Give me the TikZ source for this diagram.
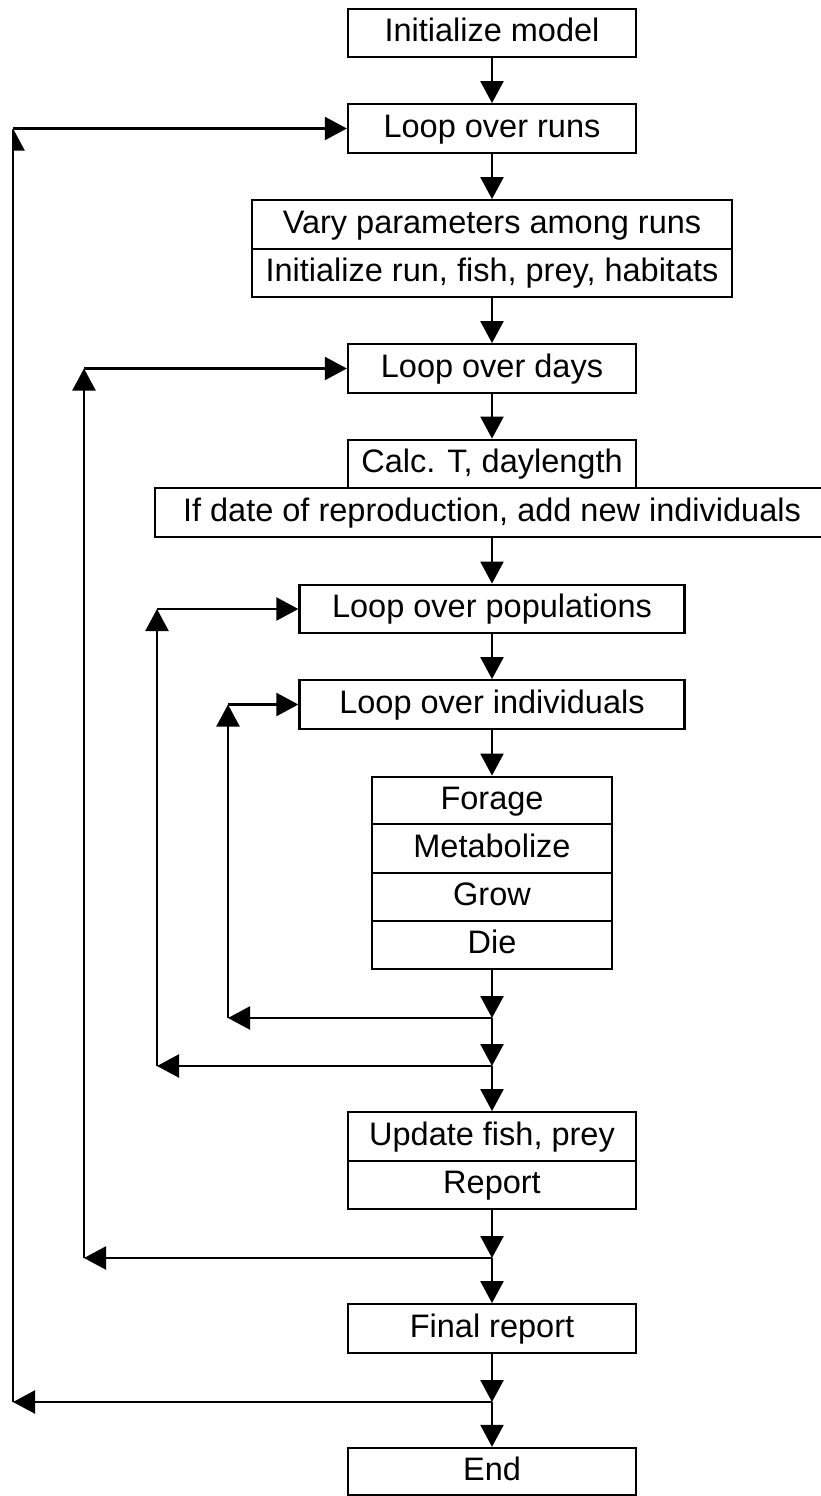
\documentclass[tikz,border=0pt]{standalone}
\usepackage{fontspec}
\setmainfont{Liberation Sans}
\usetikzlibrary{arrows.meta}
\begin{document}
\begin{tikzpicture}[x=1pt,y=-1pt,
  box/.style={draw,line width=2.3pt,inner sep=0pt,minimum height=48.5pt,
    text height=24pt,text depth=6.6pt,
    font=\fontsize{32.5pt}{38pt}\selectfont,anchor=center},
  arr/.style={line width=2.3pt,-{Triangle[length=22pt,width=23pt]}}]
\useasboundingbox[fill=white] (0,0) rectangle (821,1496);
% boxes
\node[box,minimum width=288pt] (init) at (492,33) {Initialize model};
\node[box,minimum width=288pt] (runs) at (492,128.5) {Loop over runs};
\node[box,minimum width=480pt] (vary) at (492,224.5) {Vary parameters among runs};
\node[box,minimum width=480pt] (initrun) at (492,273) {Initialize run, fish, prey, habitats};
\node[box,minimum width=288pt] (days) at (492,368.5) {Loop over days};
\node[box,minimum width=288pt] (calc) at (492,464) {Calc. T, daylength};
\node[box,minimum width=674pt] (repro) at (492,512.5) {If date of reproduction, add new individuals};
\node[box,minimum width=385pt] (pops) at (492,609) {Loop over populations};
\node[box,minimum width=385pt] (inds) at (492,704.5) {Loop over individuals};
\node[box,minimum width=240pt,minimum height=47.5pt] (forage) at (492,800.5) {Forage};
\node[box,minimum width=240pt,minimum height=48.5pt] (metab) at (492,848.5) {Metabolize};
\node[box,minimum width=240pt,minimum height=48.5pt] (grow) at (492,897) {Grow};
\node[box,minimum width=240pt,minimum height=48.5pt] (die) at (492,945) {Die};
\node[box,minimum width=288pt] (update) at (492,1136.5) {Update fish, prey};
\node[box,minimum width=288pt] (report) at (492,1185) {Report};
\node[box,minimum width=288pt] (final) at (492,1328.5) {Final report};
\node[box,minimum width=288pt,minimum height=47pt] (end) at (492,1471.5) {End};
% junctions and corners
\coordinate (j1) at (492,1018);
\coordinate (j2) at (492,1066);
\coordinate (j3) at (492,1258);
\coordinate (j4) at (492,1402);
\coordinate (c1b) at (228,1018);
\coordinate (c1t) at (228,704.5);
\coordinate (c2b) at (157,1066);
\coordinate (c2t) at (157,609);
\coordinate (c3b) at (84,1258);
\coordinate (c3t) at (84,368.5);
\coordinate (c4b) at (13,1402);
\coordinate (c4t) at (13,128.5);
% main flow
\draw[arr] (init) -- (runs);
\draw[arr] (runs) -- (vary);
\draw[arr] (initrun) -- (days);
\draw[arr] (days) -- (calc);
\draw[arr] (repro) -- (pops);
\draw[arr] (pops) -- (inds);
\draw[arr] (inds) -- (forage);
\draw[arr] (die) -- (j1);
\draw[arr] (j1) -- (j2);
\draw[arr] (j2) -- (update);
\draw[arr] (report) -- (j3);
\draw[arr] (j3) -- (final);
\draw[arr] (final) -- (j4);
\draw[arr] (j4) -- (end);
% loops
\draw[arr] (j1) -- (c1b);
\draw[arr] (c1b) -- (c1t);
\draw[arr] (c1t) -- (inds.west);
\draw[arr] (j2) -- (c2b);
\draw[arr] (c2b) -- (c2t);
\draw[arr] (c2t) -- (pops.west);
\draw[arr] (j3) -- (c3b);
\draw[arr] (c3b) -- (c3t);
\draw[arr] (c3t) -- (days.west);
\draw[arr] (j4) -- (c4b);
\begin{scope}
\clip (12,0) rectangle (821,1496);
\draw[arr] (c4b) -- (c4t);
\end{scope}
\draw[arr] (c4t) -- (runs.west);
\end{tikzpicture}
\end{document}
